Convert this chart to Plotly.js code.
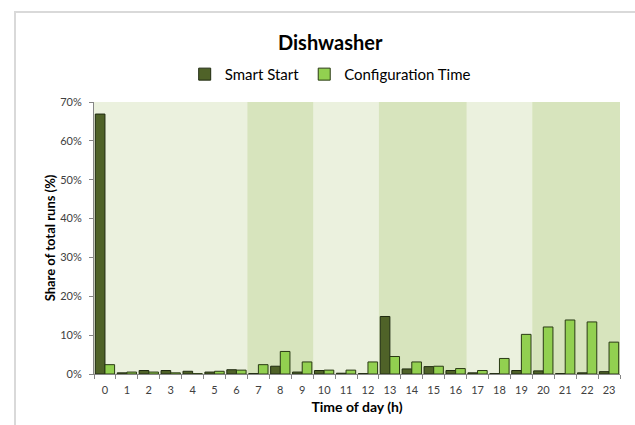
<!DOCTYPE html>
<html><head><meta charset="utf-8">
<script src="https://cdn.plot.ly/plotly-3.0.1.min.js"></script>
<style>
html,body{margin:0;padding:0;background:#fff;}
#frame{position:absolute;left:14px;top:11px;width:630px;height:420px;border-top:2px solid #d9d9d9;border-left:2px solid #d9d9d9;}
#chart{position:absolute;left:0;top:0;width:635px;height:425px;}
</style></head>
<body>
<div id="frame"></div>
<div id="chart"></div>
<script>
const hours = ['0','1','2','3','4','5','6','7','8','9','10','11','12','13','14','15','16','17','18','19','20','21','22','23'];
const smartStart = [66.9,0.3,0.9,0.9,0.7,0.5,1.1,0.1,2.0,0.5,0.9,0.2,0.1,14.8,1.3,1.9,0.9,0.3,0.1,0.9,0.8,0.1,0.3,0.6];
const configTime = [2.4,0.5,0.5,0.3,0.1,0.7,1.0,2.4,5.8,3.1,1.0,1.0,3.1,4.5,3.1,2.0,1.4,0.9,4.0,10.2,12.1,13.9,13.4,8.2];
const darkBands = [['7','9'],['13','16'],['20','23']];
const yTicks = [0,10,20,30,40,50,60,70];
const yTickText = ['0%','10%','20%','30%','40%','50%','60%','70%'];

const font = 'Lato, "Open Sans", sans-serif';
const traces = [
  {type:'bar', name:'Smart Start', x:hours, y:smartStart,
   marker:{color:'#4F6228', line:{color:'#1f2a10', width:1}}},
  {type:'bar', name:'Configuration Time', x:hours, y:configTime,
   marker:{color:'#92D050', line:{color:'#2a3a14', width:1}}}
];
const shapes = darkBands.map(b => ({
  type:'rect', layer:'below', xref:'x', yref:'paper',
  x0: hours.indexOf(b[0]) - 0.5, x1: hours.indexOf(b[1]) + 0.5, y0:0, y1:1,
  fillcolor:'#D7E4BD', line:{width:0}
}));
const layout = {
  width:635, height:425,
  margin:{l:94, r:15, t:102, b:51},
  paper_bgcolor:'rgba(0,0,0,0)', plot_bgcolor:'#EBF1DE',
  font:{family:font, color:'#404040'},
  title:{text:'<b>Dishwasher</b>', font:{size:20, color:'#000', family:font}, x:0.52, xref:'container', y:0.9, yref:'container', yanchor:'middle'},
  showlegend:true,
  legend:{orientation:'h', x:0.52, xref:'container', xanchor:'center', y:0.825, yref:'container', yanchor:'middle',
          font:{size:15, color:'#000', family:font}, itemwidth:30, tracegroupgap:0},
  barmode:'group', bargap:0.12, bargroupgap:0,
  xaxis:{type:'category', categoryorder:'array', categoryarray:hours, tickson:'boundaries', ticks:'outside', ticklen:4,
         tickangle:0, tickcolor:'#868686', showline:true, linecolor:'#868686', linewidth:1, showgrid:false,
         tickfont:{size:11, color:'#404040', family:font}, ticklabelstandoff:6,
         title:{text:'<b>Time of day (h)</b>', font:{size:14, color:'#000', family:font}, standoff:6}},
  yaxis:{range:[0,70], tickvals:yTicks, ticktext:yTickText, tickmode:'array', ticks:'outside', ticklen:4, tickcolor:'#868686',
         showline:true, linecolor:'#868686', linewidth:1, showgrid:false, zeroline:false,
         tickfont:{size:11, color:'#404040', family:font}, ticklabelstandoff:5,
         title:{text:'<b>Share of total runs (%)</b>', font:{size:13, color:'#000', family:font}, standoff:1}},
  shapes:shapes
};
Plotly.newPlot('chart', traces, layout, {displayModeBar:false, staticPlot:true});
</script>
</body></html>
